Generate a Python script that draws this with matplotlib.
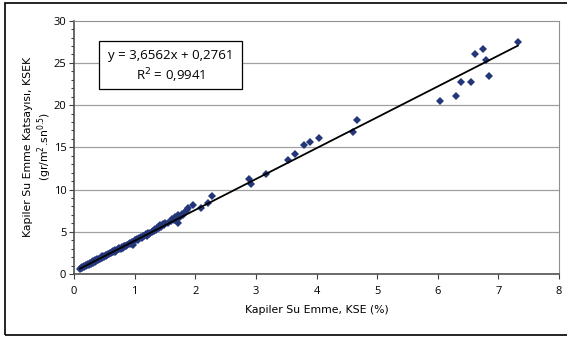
import matplotlib
matplotlib.use("Agg")
import matplotlib.pyplot as plt
from matplotlib.patches import Rectangle

plt.rcParams['font.family'] = ['Open Sans', 'DejaVu Sans']

# Dense cluster
cluster_x = [0.10,0.11,0.13,0.14,0.16,0.17,0.19,0.20,0.22,0.23,0.25,0.26,0.28,0.29,0.31,0.32,
             0.34,0.35,0.37,0.38,0.40,0.41,0.43,0.44,0.46,0.47,0.49,0.50,0.52,0.53,0.55,0.56,
             0.58,0.59,0.61,0.62,0.64,0.65,0.67,0.68,0.70,0.72,0.74,0.75,0.77,0.79,0.80,0.82,
             0.84,0.86,0.88,0.90,0.92,0.94,0.96,0.98,1.00,1.02,1.04,1.06,1.08,1.10,1.12,1.14,
             1.16,1.18,1.20,1.22,1.24,1.26,1.28,1.30,1.32,1.34,1.36,1.38,1.40,1.42,1.44,1.46,
             1.48,1.50,1.55,1.60,1.62,1.65,1.67,1.70,1.72,1.75,1.78,1.80,1.83,1.86]
cluster_y = [0.55,0.72,0.70,0.85,0.80,0.98,0.92,1.08,1.02,1.18,1.10,1.30,1.22,1.40,1.30,1.50,
             1.42,1.60,1.52,1.72,1.65,1.82,1.75,1.95,1.85,2.08,1.98,2.18,2.10,2.30,2.20,2.42,
             2.32,2.50,2.45,2.62,2.55,2.75,2.62,2.85,2.78,2.92,2.95,3.05,3.00,3.20,3.12,3.30,
             3.28,3.35,3.45,3.50,3.65,3.58,3.80,3.45,4.00,4.00,4.20,4.05,4.30,4.40,4.30,4.55,
             4.45,4.70,4.55,4.85,4.75,4.90,4.95,5.10,5.05,5.30,5.20,5.55,5.45,5.75,5.60,5.90,
             5.80,6.00,6.05,6.30,6.50,6.40,6.80,6.55,6.95,6.70,7.10,7.00,7.40,7.60]

# Scattered points
outer_x = [1.72,1.88,1.97,2.09,2.21,2.28,2.88,2.92,3.17,3.53,3.65,3.79,3.90,4.04,4.60,4.66,
           6.04,6.30,6.38,6.55,6.62,6.75,6.79,6.84,7.32]
outer_y = [6.00,7.80,8.20,7.80,8.40,9.20,11.30,10.70,11.85,13.50,14.20,15.30,15.60,16.15,16.80,18.25,
           20.50,21.05,22.70,22.70,26.10,26.70,25.40,23.50,27.50]

slope = 3.6562
intercept = 0.2761
eq_text = "y = 3,6562x + 0,2761"
r2_text = "R$^2$ = 0,9941"

xs = cluster_x + outer_x
ys = cluster_y + outer_y

fig = plt.figure(figsize=(5.67, 3.37), dpi=100)
ax = fig.add_axes([74/567, 1-274/337, (559-74)/567, (274-20.7)/337])

ax.set_xlim(0, 8)
ax.set_ylim(0, 30)
ax.set_xticks(range(0, 9))
ax.set_yticks(range(0, 31, 5))
ax.set_yticks(range(0, 31, 1), minor=True)

for yv in range(5, 30, 5):
    ax.axhline(yv, color='#a0a0a0', lw=0.9, zorder=0)

ax.plot(xs, ys, linestyle='none', marker='D', markersize=3.9,
        color='#24367a', markeredgewidth=0, zorder=2)

x0, x1 = min(xs), max(xs)
ax.plot([x0, x1], [slope*x0+intercept, slope*x1+intercept], color='black', lw=1.3, zorder=3)

for s in ['top', 'right']:
    ax.spines[s].set_color('#909090')
    ax.spines[s].set_linewidth(0.8)
for s in ['left', 'bottom']:
    ax.spines[s].set_color('#505050')
    ax.spines[s].set_linewidth(1.2)

ax.tick_params(axis='both', which='major', direction='out', length=3.5, width=0.8,
               color='#404040', labelsize=8, labelcolor='black', pad=2)
ax.tick_params(axis='y', which='minor', direction='out', length=2, width=0.8, color='#404040')
ax.tick_params(axis='x', which='major', pad=5)

lab_font = ['DejaVu Sans']
ax.set_xlabel("Kapiler Su Emme, KSE (%)", fontsize=7.8, labelpad=6, family=lab_font)

fig.text(28/567, 1-147/337, "Kapiler Su Emme Katsayısı, KSEK", rotation=90,
         ha='center', va='center', fontsize=7.8, family=lab_font)
fig.text(45/567, 1-147/337, "(gr/m$^2$.sn$^{0.5}$)", rotation=90,
         ha='center', va='center', fontsize=7.8, family=lab_font)

# equation box
bx0, by0, bx1, by1 = 99/567, 1-89.3/337, 242/567, 1-40.7/337
fig.patches.append(Rectangle((bx0, by0), bx1-bx0, by1-by0, transform=fig.transFigure,
                             facecolor='white', edgecolor='black', lw=0.9, zorder=5))
fig.text((bx0+bx1)/2, 1-55/337, eq_text, ha='center', va='center', fontsize=9.5, zorder=6)
fig.text((bx0+bx1)/2, 1-76/337, r2_text, ha='center', va='center', fontsize=9.5, zorder=6)

# outer border
fig.patches.append(Rectangle((4.5/567, 1-334.5/337), 1.2, (334.5-2.5)/337, transform=fig.transFigure,
                             facecolor='none', edgecolor='black', lw=1.2, zorder=0))

fig.savefig("out.png", dpi=100)
